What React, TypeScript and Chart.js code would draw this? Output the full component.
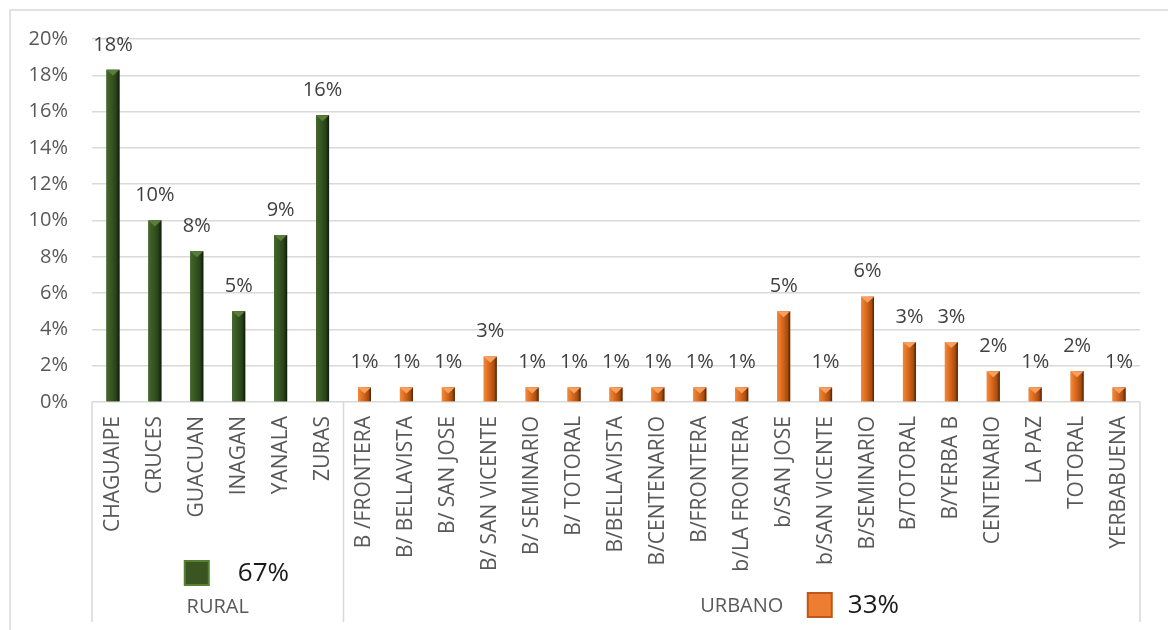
import React, { useEffect, useRef } from "react";
import { Chart, registerables } from "chart.js";

Chart.register(...registerables);

const ruralCategories = ["CHAGUAIPE", "CRUCES", "GUACUAN", "INAGAN", "YANALA", "ZURAS"];
const ruralValues = [18.3, 10.0, 8.3, 5.0, 9.2, 15.8];
const ruralLabels = ["18%", "10%", "8%", "5%", "9%", "16%"];

const urbanCategories = [
  "B /FRONTERA", "B/ BELLAVISTA", "B/ SAN JOSE", "B/ SAN VICENTE", "B/ SEMINARIO",
  "B/ TOTORAL", "B/BELLAVISTA", "B/CENTENARIO", "B/FRONTERA", "b/LA FRONTERA",
  "b/SAN JOSE", "b/SAN VICENTE", "B/SEMINARIO", "B/TOTORAL", "B/YERBA B",
  "CENTENARIO", "LA PAZ", "TOTORAL", "YERBABUENA",
];
const urbanValues = [0.8, 0.8, 0.8, 2.5, 0.8, 0.8, 0.8, 0.8, 0.8, 0.8, 5.0, 0.8, 5.8, 3.3, 3.3, 1.7, 0.8, 1.7, 0.8];
const urbanLabels = ["1%", "1%", "1%", "3%", "1%", "1%", "1%", "1%", "1%", "1%", "5%", "1%", "6%", "3%", "3%", "2%", "1%", "2%", "1%"];

const groupNames = ["RURAL", "URBANO"];
const groupTotals = ["67%", "33%"];

const yTicksMax = 20;
const yStep = 2;

const FONT = "'Open Sans', 'Noto Sans', sans-serif";

export default function App() {
  const ref = useRef<HTMLCanvasElement | null>(null);

  useEffect(() => {
    document.body.style.margin = "0";
    const canvas = ref.current;
    if (!canvas) return;

    const categories = [...ruralCategories, ...urbanCategories];
    const values = [...ruralValues, ...urbanValues];
    const labels = [...ruralLabels, ...urbanLabels];
    const isRural = categories.map((_, i) => i < ruralCategories.length);

    const decorPlugin = {
      id: "decor",
      beforeDraw(chart: any) {
        const c = chart.ctx;
        c.save();
        c.fillStyle = "#ffffff";
        c.fillRect(0, 0, chart.width, chart.height);
        c.strokeStyle = "#d9d9d9";
        c.lineWidth = 1.5;
        c.beginPath();
        c.moveTo(10, chart.height);
        c.lineTo(10, 10);
        c.lineTo(chart.width, 10);
        c.stroke();
        c.restore();
      },
      afterDatasetsDraw(chart: any) {
        const c = chart.ctx;
        const meta = chart.getDatasetMeta(0);
        c.save();
        meta.data.forEach((el: any, i: number) => {
          const { x, y, base, width } = el.getProps(["x", "y", "base", "width"], true);
          const l = x - width / 2;
          const r = x + width / 2;
          const g = c.createLinearGradient(l, 0, r, 0);
          if (isRural[i]) {
            g.addColorStop(0, "#44672a");
            g.addColorStop(0.35, "#375822");
            g.addColorStop(0.75, "#27421a");
            g.addColorStop(1, "#0f1a08");
          } else {
            g.addColorStop(0, "#f08a3a");
            g.addColorStop(0.4, "#db681c");
            g.addColorStop(0.8, "#a64c10");
            g.addColorStop(1, "#4a2006");
          }
          c.fillStyle = g;
          c.fillRect(l, y, width, base - y);
          c.fillStyle = isRural[i] ? "#5a7e3a" : "#f7a060";
          c.beginPath();
          c.moveTo(l, y);
          c.lineTo(r, y);
          c.lineTo(x, y + 6);
          c.closePath();
          c.fill();
          c.fillStyle = "#404040";
          c.font = `20px ${FONT}`;
          c.textAlign = "center";
          c.textBaseline = "middle";
          c.fillText(labels[i], x, y - 25);
        });
        c.restore();
      },
      afterDraw(chart: any) {
        const c = chart.ctx;
        const area = chart.chartArea;
        const xs = chart.scales.x;
        const nR = ruralCategories.length;
        const sep = (xs.getPixelForValue(nR - 1) + xs.getPixelForValue(nR)) / 2;
        const bottom = 622;
        c.save();
        c.strokeStyle = "#d9d9d9";
        c.lineWidth = 1.5;
        [area.left, sep, area.right].forEach((px: number) => {
          c.beginPath();
          c.moveTo(px, area.bottom);
          c.lineTo(px, bottom);
          c.stroke();
        });
        c.fillStyle = "#595959";
        c.font = `20px ${FONT}`;
        c.textAlign = "center";
        c.textBaseline = "middle";
        const ruralC = (area.left + sep) / 2;
        const urbanC = (sep + area.right) / 2;
        c.fillText(groupNames[0], ruralC, 607);
        c.fillText(groupNames[1], urbanC, 606);

        const drawBox = (cx: number, cy: number, fill: string, stroke: string) => {
          c.fillStyle = fill;
          c.fillRect(cx - 12, cy - 12, 24, 24);
          c.strokeStyle = stroke;
          c.lineWidth = 2;
          c.strokeRect(cx - 12, cy - 12, 24, 24);
        };
        drawBox(ruralC - 21, 573, "#3a5522", "#54812f");
        drawBox(urbanC + 78, 605, "#ed7d31", "#c0561a");
        c.fillStyle = "#1a1a1a";
        c.font = `26px ${FONT}`;
        c.textAlign = "left";
        c.fillText(groupTotals[0], ruralC + 20, 574);
        c.fillText(groupTotals[1], urbanC + 106, 606);
        c.restore();
      },
    };

    const chart = new Chart(canvas, {
      type: "bar",
      data: {
        labels: categories,
        datasets: [
          {
            data: values,
            backgroundColor: isRural.map((r) => (r ? "#2d4a1c" : "#d9661c")),
            borderWidth: 0,
            barPercentage: 0.31,
            categoryPercentage: 1,
          },
        ],
      },
      options: {
        responsive: false,
        animation: false,
        layout: { padding: { top: 39, right: 28, left: 0, bottom: 0 } },
        plugins: {
          legend: { display: false },
          tooltip: { enabled: false },
        },
        scales: {
          x: {
            grid: { display: false, drawTicks: false },
            border: { display: false },
            ticks: {
              autoSkip: false,
              minRotation: 90,
              maxRotation: 90,
              padding: 14,
              color: "#595959",
              font: { size: 21, family: FONT },
            },
            afterFit(scale: any) {
              scale.height = 228;
            },
          },
          y: {
            min: 0,
            max: yTicksMax,
            border: { display: false },
            grid: { color: "#d9d9d9", lineWidth: 1.5, drawTicks: false },
            ticks: {
              stepSize: yStep,
              padding: 24,
              color: "#595959",
              font: { size: 20, family: FONT },
              callback: (v: any) => `${v}%`,
            },
            afterFit(scale: any) {
              scale.width = 92;
            },
          },
        },
      },
      plugins: [decorPlugin],
    });

    return () => chart.destroy();
  }, []);

  return (
    <div style={{ width: 1168, height: 630 }}>
      <canvas ref={ref} width={1168} height={630} style={{ display: "block", width: 1168, height: 630 }} />
    </div>
  );
}
